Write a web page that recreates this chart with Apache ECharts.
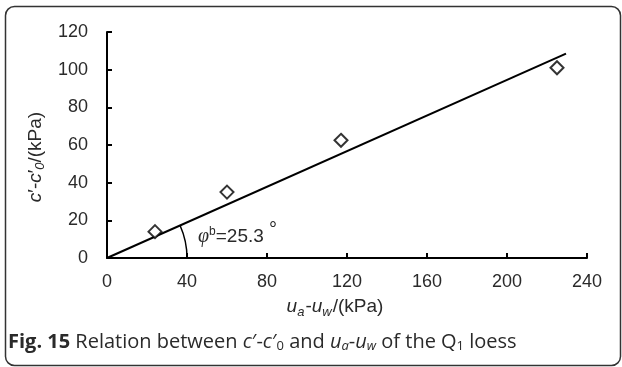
<!DOCTYPE html>
<html>
<head>
<meta charset="utf-8">
<script src="https://cdn.jsdelivr.net/npm/echarts@6/dist/echarts.min.js"></script>
<style>
html,body{margin:0;padding:0;background:#fff;}
#main{width:622px;height:367px;}
</style>
</head>
<body>
<div id="main"></div>
<script>
// Measured points
const xValues = [24, 60, 117, 225];
const yValues = [14, 35, 62.5, 101];
// Fitted line (from origin)
const fitX = [0, 229.5];
const fitY = [0, 108.5];
// Axis ranges
const xRange = [0, 240, 40];
const yRange = [0, 120, 20];
// Angle annotation
const angleLabel = '25.3';
const arcRadiusX = 40;          // arc reaches the x-axis at this value
const annotAnchor = [45, 12];   // data position of the annotation text

const chart = echarts.init(document.getElementById('main'));
const FONT = '"Liberation Sans", Arial, sans-serif';
const txt = '#2a2a2a';

chart.setOption({
  animation: false,
  grid: {left: 107, right: 35, top: 32, bottom: 109, containLabel: false},
  xAxis: {
    type: 'value', min: xRange[0], max: xRange[1], interval: xRange[2],
    axisLine: {lineStyle: {color: '#000', width: 2}},
    axisTick: {inside: true, length: 5, lineStyle: {color: '#000', width: 2}},
    axisLabel: {color: txt, fontFamily: FONT, fontSize: 18, margin: 15},
    splitLine: {show: false},
    name: '{i|u}{sub|a}-{i|u}{sub|w}/(kPa)',
    nameLocation: 'middle', nameGap: 37,
    nameTextStyle: {
      color: txt, fontFamily: FONT, fontSize: 19, padding: [0, 24, 0, 0],
      rich: {
        i: {fontStyle: 'italic', fontFamily: FONT, fontSize: 19, color: txt},
        sub: {fontStyle: 'italic', fontFamily: FONT, fontSize: 13, color: txt, padding: [11, 1, 0, 0]}
      }
    }
  },
  yAxis: {
    type: 'value', min: yRange[0], max: yRange[1], interval: yRange[2],
    axisLine: {lineStyle: {color: '#000', width: 2}},
    axisTick: {inside: true, length: 5, lineStyle: {color: '#000', width: 2}},
    axisLabel: {color: txt, fontFamily: FONT, fontSize: 18, margin: 19},
    splitLine: {show: false},
    name: '{i|c}′-{i|c}′{sub|0}/(kPa)',
    nameLocation: 'middle', nameGap: 57,
    nameTextStyle: {
      color: txt, fontFamily: FONT, fontSize: 19, padding: [0, 24, 0, 0],
      rich: {
        i: {fontStyle: 'italic', fontFamily: FONT, fontSize: 19, color: txt},
        sub: {fontStyle: 'italic', fontFamily: FONT, fontSize: 13, color: txt, padding: [10, 0, 0, 0]}
      }
    }
  },
  series: [
    {
      type: 'line',
      data: fitX.map((x, i) => [x, fitY[i]]),
      symbol: 'none',
      lineStyle: {color: '#000', width: 2},
      z: 2
    },
    {
      type: 'scatter',
      data: xValues.map((x, i) => [x, yValues[i]]),
      symbol: 'diamond', symbolSize: 13,
      itemStyle: {color: '#fff', borderColor: '#000', borderWidth: 2},
      z: 3
    }
  ]
});

const o = chart.convertToPixel('grid', [0, 0]);
const r = chart.convertToPixel('grid', [arcRadiusX, 0]);
const e = chart.convertToPixel('grid', [fitX[1], fitY[1]]);
const ang = Math.atan2(e[1] - o[1], e[0] - o[0]);
const a = chart.convertToPixel('grid', annotAnchor);

chart.setOption({
  graphic: [
    {
      type: 'rect', left: 3, top: 4, z: 0, silent: true,
      shape: {width: 615, height: 359, r: 9},
      style: {fill: 'none', stroke: '#333', lineWidth: 1.5}
    },
    {
      type: 'arc', z: 5,
      shape: {cx: o[0], cy: o[1], r: r[0] - o[0], startAngle: ang, endAngle: 0, clockwise: true},
      style: {fill: 'none', stroke: '#000', lineWidth: 1.5}
    },
    {
      type: 'text', z: 5, x: a[0] + 1, y: a[1] + 1,
      style: {
        text: '{phi|φ}{sup|b}=' + angleLabel + ' {deg|°}',
        fontFamily: FONT, fontSize: 19, fill: txt, verticalAlign: 'middle',
        rich: {
          phi: {fontFamily: '"Liberation Serif", serif', fontStyle: 'italic', fontSize: 20, fill: txt},
          sup: {fontFamily: FONT, fontSize: 12, fill: txt, padding: [0, 0, 10, 0]},
          deg: {fontFamily: FONT, fontSize: 20, fill: txt, padding: [0, 0, 12, 0]}
        }
      }
    },
    {
      type: 'text', z: 5, x: 8, y: 342,
      style: {
        text: '{b|Fig. 15} Relation between {i|c}′-{i|c}′{sub|0} and {i|u}{isub|a}-{i|u}{isub|w} of the Q{sub|1} loess',
        fontFamily: '"Open Sans", sans-serif', fontSize: 20, fill: '#2a2a2a', verticalAlign: 'middle',
        rich: {
          b: {fontFamily: '"Open Sans", sans-serif', fontWeight: 'bold', fontSize: 20, fill: '#2a2a2a'},
          i: {fontFamily: '"Open Sans", sans-serif', fontStyle: 'italic', fontSize: 20, fill: '#2a2a2a'},
          sub: {fontFamily: '"Open Sans", sans-serif', fontSize: 13, fill: '#2a2a2a', padding: [9, 0, 0, 0]},
          isub: {fontFamily: '"Open Sans", sans-serif', fontStyle: 'italic', fontSize: 13, fill: '#2a2a2a', padding: [9, 0, 0, 0]}
        }
      }
    }
  ]
});
</script>
</body>
</html>
